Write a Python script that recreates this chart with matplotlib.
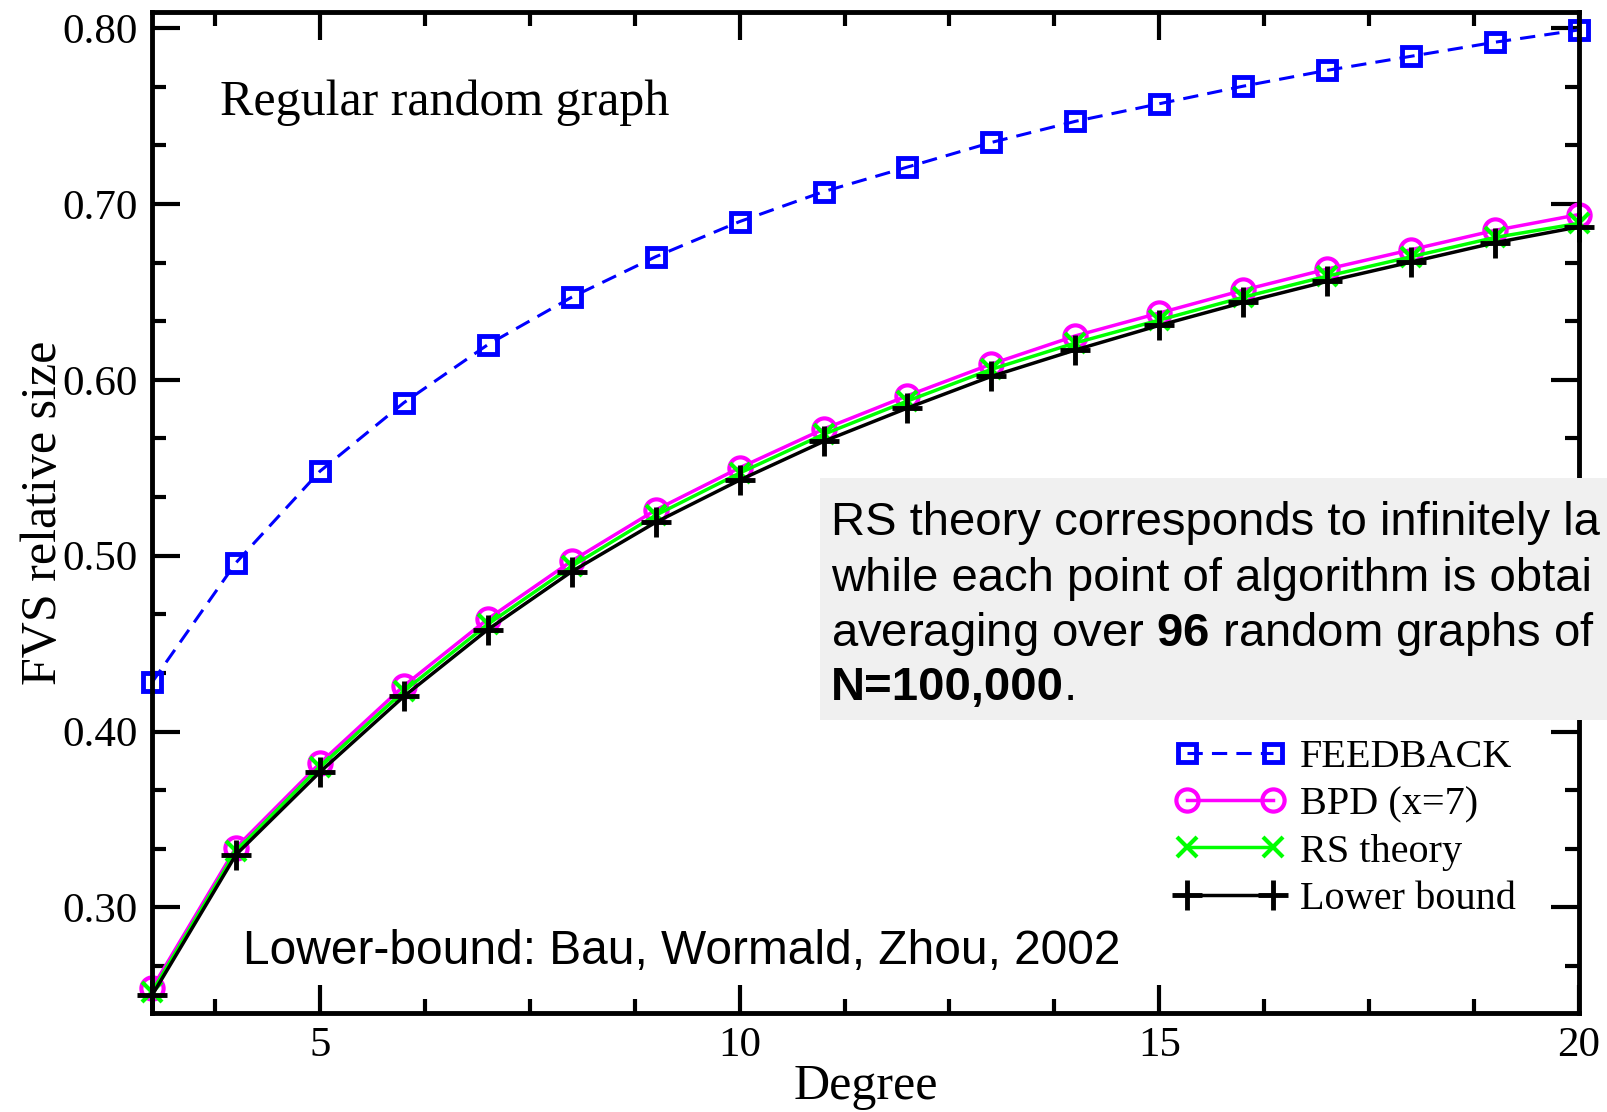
import matplotlib
matplotlib.use("Agg")
import matplotlib.pyplot as plt
from matplotlib.ticker import MultipleLocator, FormatStrFormatter
from matplotlib.patches import Rectangle
from matplotlib.text import Annotation

plt.rcParams['font.family'] = ['Liberation Serif', 'DejaVu Serif']
plt.rcParams['mathtext.fontset'] = 'custom'
plt.rcParams['mathtext.rm'] = 'Liberation Sans'
plt.rcParams['mathtext.bf'] = 'Liberation Sans:bold'

# Data
degree = [3, 4, 5, 6, 7, 8, 9, 10, 11, 12, 13, 14, 15, 16, 17, 18, 19, 20]
feedback = [0.428, 0.496, 0.548, 0.587, 0.620, 0.647, 0.670, 0.690, 0.707,
            0.721, 0.735, 0.747, 0.757, 0.767, 0.776, 0.784, 0.792, 0.799]
bpd = [0.254, 0.334, 0.382, 0.426, 0.464, 0.497, 0.526, 0.550, 0.572,
       0.591, 0.609, 0.625, 0.638, 0.651, 0.663, 0.674, 0.685, 0.694]
rs_theory = [0.252, 0.332, 0.380, 0.423, 0.461, 0.494, 0.523, 0.547, 0.569,
             0.588, 0.606, 0.621, 0.634, 0.647, 0.659, 0.670, 0.681, 0.689]
lower_bound = [0.250, 0.330, 0.377, 0.420, 0.458, 0.491, 0.519, 0.543, 0.565,
               0.584, 0.602, 0.617, 0.631, 0.644, 0.656, 0.667, 0.678, 0.687]

W, H = 1608, 1112
fig = plt.figure(figsize=(W / 100, H / 100), dpi=100)
ax = fig.add_axes([152 / W, 1 - 1013 / H, 1427 / W, 1000.7 / H])

ax.plot(degree, feedback, color='#0000ff', lw=2.2, dashes=(5, 3), marker='s',
        ms=13.5, mew=3.5, mfc='none', label='FEEDBACK', clip_on=False)
ax.plot(degree, bpd, color='#ff00ff', lw=2.5, marker='o', ms=16, mew=3,
        mfc='none', label='BPD (x=7)', clip_on=False)
ax.plot(degree, rs_theory, color='#00ff00', lw=2.5, marker='x', ms=14, mew=3,
        label='RS theory', clip_on=False)
ax.plot(degree, lower_bound, color='black', lw=2.5, marker='+', ms=22, mew=3.5,
        label='Lower bound', clip_on=False)

ax.set_xlim(3, 20)
ax.set_ylim(0.240, 0.809)
ax.xaxis.set_major_locator(MultipleLocator(5))
ax.xaxis.set_minor_locator(MultipleLocator(1.25))
ax.yaxis.set_major_locator(MultipleLocator(0.1))
ax.yaxis.set_minor_locator(MultipleLocator(0.1 / 3))
ax.yaxis.set_major_formatter(FormatStrFormatter('%.2f'))
ax.tick_params(which='both', direction='in', top=True, right=True, width=3)
ax.tick_params(which='major', length=20, pad=10, labelsize=31)
ax.tick_params(which='minor', length=10)
for s in ax.spines.values():
    s.set_linewidth(3.5)

ax.set_xlabel('Degree', fontsize=36, va='center')
ax.xaxis.set_label_coords(0.5, -0.074)
ax.set_ylabel('FVS relative size', fontsize=36, va='center')
ax.yaxis.set_label_coords(-0.076, 0.5)

ax.text(3.81, 0.7575, 'Regular random graph', fontsize=36, va='center')
ax.text(4.08, 0.275, 'Lower-bound: Bau, Wormald, Zhou, 2002',
        family='Liberation Sans', fontsize=34.5, va='center')

ax.legend(loc='upper left', bbox_to_anchor=(0.717, 0.274), frameon=False,
          numpoints=2, fontsize=29, handlelength=2.73, handletextpad=0.37,
          labelspacing=0.25, borderpad=0, borderaxespad=0)

# grey note box on top of the plot
fig.patches.append(Rectangle((820 / W, 1 - 720 / H), (W - 820) / W, 242 / H,
                             transform=fig.transFigure, facecolor='#f0f0f0',
                             edgecolor='none', zorder=5))
tx = 831 / W
note_kw = dict(family='Liberation Sans', fontsize=34, va='baseline', zorder=6)
fig.text(tx, 1 - 535 / H, 'RS theory corresponds to infinitely la', **note_kw)
fig.text(tx, 1 - 591 / H, 'while each point of algorithm is obtai', **note_kw)
fig.text(tx, 1 - 646 / H, r'averaging over $\mathbf{96}$ random graphs of', **note_kw)
t4 = fig.text(tx, 1 - 700 / H, 'N=100,000', weight='bold', **note_kw)
fig.add_artist(Annotation('.', xy=(1, 0), xycoords=t4, va='bottom', ha='left',
                          family='Liberation Sans', fontsize=34, zorder=6))

fig.savefig('out.png', dpi=100)
